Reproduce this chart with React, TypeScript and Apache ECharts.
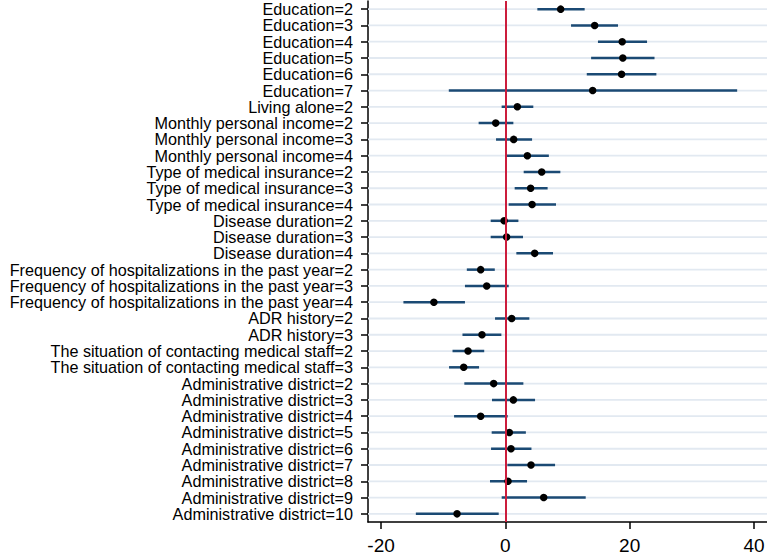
import React, { useEffect, useRef } from "react";
import * as echarts from "echarts";

// Regression coefficients with 95% confidence intervals
const categories: string[] = [
  "Education=2",
  "Education=3",
  "Education=4",
  "Education=5",
  "Education=6",
  "Education=7",
  "Living alone=2",
  "Monthly personal income=2",
  "Monthly personal income=3",
  "Monthly personal income=4",
  "Type of medical insurance=2",
  "Type of medical insurance=3",
  "Type of medical insurance=4",
  "Disease duration=2",
  "Disease duration=3",
  "Disease duration=4",
  "Frequency of hospitalizations in the past year=2",
  "Frequency of hospitalizations in the past year=3",
  "Frequency of hospitalizations in the past year=4",
  "ADR history=2",
  "ADR history=3",
  "The situation of contacting medical staff=2",
  "The situation of contacting medical staff=3",
  "Administrative district=2",
  "Administrative district=3",
  "Administrative district=4",
  "Administrative district=5",
  "Administrative district=6",
  "Administrative district=7",
  "Administrative district=8",
  "Administrative district=9",
  "Administrative district=10",
];

const estimates: number[] = [
  8.9, 14.37, 18.8, 18.9, 18.7, 14.05, 1.93, -1.55, 1.34, 3.54, 5.85, 4.07,
  4.3, -0.2, 0.2, 4.72, -3.97, -3.0, -11.5, 1.02, -3.76, -6.0, -6.7, -1.88,
  1.29, -3.97, 0.64, 0.91, 4.13, 0.43, 6.17, -7.77,
];

const lower: number[] = [
  5.15, 10.57, 14.9, 13.8, 13.1, -9.1, -0.6, -4.3, -1.5, 0.1, 2.95, 1.5, 0.53,
  -2.36, -2.36, 1.77, -6.2, -6.5, -16.4, -1.66, -6.9, -8.5, -9.06, -6.6,
  -2.15, -8.25, -2.2, -2.3, 0.32, -2.47, -0.59, -14.4,
];

const upper: number[] = [
  12.76, 18.13, 22.8, 24.0, 24.3, 37.3, 4.5, 1.29, 4.3, 7.0, 8.85, 6.8, 8.15,
  2.1, 2.84, 7.67, -1.7, 0.54, -6.5, 3.86, -0.64, -3.4, -4.23, 2.9, 4.78,
  0.38, 3.3, 4.2, 8.0, 3.49, 12.93, -1.07,
];

const xTicks: number[] = [-20, 0, 20, 40];

const FONT = "'Liberation Sans', Arial, Helvetica, sans-serif";

export default function App() {
  const ref = useRef<HTMLDivElement>(null);

  useEffect(() => {
    if (!ref.current) return;
    const chart = echarts.init(ref.current, null, { renderer: "svg" });

    const option: any = {
      animation: false,
      backgroundColor: "#ffffff",
      grid: {
        left: 368,
        right: 0,
        top: 1,
        bottom: 32,
        containLabel: false,
        outerBoundsMode: "none",
      },
      xAxis: {
        type: "value",
        min: -22.1,
        max: 42.1,
        axisLine: {
          show: true,
          onZero: false,
          lineStyle: { color: "#000", width: 1.5 },
        },
        axisTick: {
          show: true,
          length: 7,
          lineStyle: { color: "#000", width: 1.5 },
          customValues: xTicks,
        },
        axisLabel: {
          customValues: xTicks,
          fontSize: 19,
          fontFamily: FONT,
          color: "#000",
          margin: 14,
        },
        splitLine: { show: false },
      },
      yAxis: {
        type: "category",
        data: categories,
        inverse: true,
        axisLine: {
          show: true,
          onZero: false,
          lineStyle: { color: "#000", width: 1.5 },
        },
        axisTick: {
          show: true,
          length: 7,
          alignWithLabel: true,
          lineStyle: { color: "#000", width: 1.5 },
        },
        axisLabel: {
          fontSize: 16.2,
          lineHeight: 16,
          fontFamily: FONT,
          color: "#000",
          margin: 15,
          interval: 0,
        },
        splitLine: { show: false },
      },
      series: [
        {
          // horizontal guide lines through each row, plus the zero reference line
          type: "custom",
          z: 1,
          silent: true,
          data: categories.map((_, i) => [0, i]),
          encode: { x: 0, y: 1 },
          renderItem: (params: any, api: any) => {
            const y = api.coord([0, api.value(1)])[1];
            const cs = params.coordSys;
            return {
              type: "line",
              shape: { x1: cs.x, y1: y, x2: cs.x + cs.width, y2: y },
              style: { stroke: "#e2e9f1", lineWidth: 1.8 },
            };
          },
          markLine: {
            silent: true,
            symbol: ["none", "none"],
            label: { show: false },
            lineStyle: { color: "#cc1d3c", width: 2, type: "solid" },
            data: [{ xAxis: 0 }],
          },
        },
        {
          // confidence intervals
          type: "custom",
          z: 2,
          silent: true,
          data: categories.map((_, i) => [lower[i], upper[i], i]),
          encode: { x: [0, 1], y: 2 },
          renderItem: (_params: any, api: any) => {
            const p1 = api.coord([api.value(0), api.value(2)]);
            const p2 = api.coord([api.value(1), api.value(2)]);
            return {
              type: "line",
              shape: { x1: p1[0], y1: p1[1], x2: p2[0], y2: p2[1] },
              style: { stroke: "#1b4a74", lineWidth: 2.5 },
            };
          },
        },
        {
          // point estimates
          type: "scatter",
          z: 3,
          silent: true,
          symbol: "circle",
          symbolSize: 7.5,
          itemStyle: { color: "#000", opacity: 1 },
          data: estimates.map((v, i) => [v, i]),
        },
      ],
    };

    chart.setOption(option);
    return () => chart.dispose();
  }, []);

  return (
    <div
      ref={ref}
      style={{
        position: "absolute",
        left: 0,
        top: 0,
        width: 767,
        height: 554,
        background: "#fff",
      }}
    />
  );
}
